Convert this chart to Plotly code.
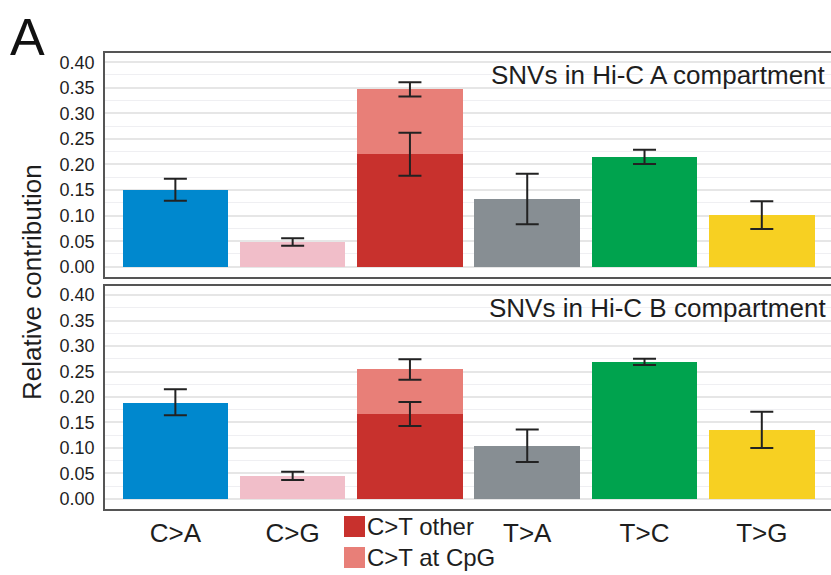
import plotly.graph_objects as go

# ---------------- data ----------------
categories = ["C>A", "C>G", "C>T", "T>A", "T>C", "T>G"]
tick_labels = ["C>A", "C>G", "", "T>A", "T>C", "T>G"]

single_cats = ["C>A", "C>G", "T>A", "T>C", "T>G"]
single_colors = ["#0088CE", "#F1BEC9", "#878E93", "#00A34E", "#F7D022"]

# Hi-C A compartment
a_single = [0.150, 0.048, 0.133, 0.215, 0.101]
a_ct_other = 0.220
a_ct_cpg = 0.127
a_err_low = [0.129, 0.041, 0.178, 0.333, 0.083, 0.201, 0.074]
a_err_high = [0.172, 0.0556, 0.262, 0.361, 0.182, 0.229, 0.128]

# Hi-C B compartment
b_single = [0.188, 0.045, 0.104, 0.2686, 0.135]
b_ct_other = 0.1667
b_ct_cpg = 0.088
b_err_low = [0.164, 0.037, 0.143, 0.234, 0.0725, 0.263, 0.100]
b_err_high = [0.215, 0.053, 0.190, 0.274, 0.136, 0.275, 0.171]

err_cats = ["C>A", "C>G", "C>T", "C>T", "T>A", "T>C", "T>G"]

ct_other_color = "#C8312D"
ct_cpg_color = "#E87F78"
legend_labels = ["C>T other", "C>T at CpG"]

FONT = "Liberation Sans, Arial, Helvetica, sans-serif"
TXT = "#1E1E1E"

fig = go.Figure()


def add_panel(single, ct_other, ct_cpg, lo, hi, xa, ya):
    fig.add_trace(go.Bar(x=single_cats, y=single, marker=dict(color=single_colors, line=dict(width=0)),
                         width=0.9, xaxis=xa, yaxis=ya, showlegend=False))
    fig.add_trace(go.Bar(x=["C>T"], y=[ct_other], marker=dict(color=ct_other_color, line=dict(width=0)),
                         width=0.9, xaxis=xa, yaxis=ya, showlegend=False))
    fig.add_trace(go.Bar(x=["C>T"], y=[ct_cpg], base=[ct_other],
                         marker=dict(color=ct_cpg_color, line=dict(width=0)),
                         width=0.9, xaxis=xa, yaxis=ya, showlegend=False))
    mids = [(l + h) / 2 for l, h in zip(lo, hi)]
    fig.add_trace(go.Scatter(
        x=err_cats, y=mids, mode="markers", marker=dict(size=0.1, color="rgba(0,0,0,0)"),
        error_y=dict(type="data", symmetric=False,
                     array=[h - m for h, m in zip(hi, mids)],
                     arrayminus=[m - l for l, m in zip(lo, mids)],
                     color="#222222", thickness=2, width=11.5),
        xaxis=xa, yaxis=ya, showlegend=False, hoverinfo="skip"))


add_panel(b_single, b_ct_other, b_ct_cpg, b_err_low, b_err_high, "x", "y")
add_panel(a_single, a_ct_other, a_ct_cpg, a_err_low, a_err_high, "x2", "y2")

yrange = [-0.02, 0.418]
yax = dict(range=yrange, tickvals=[0, 0.05, 0.1, 0.15, 0.2, 0.25, 0.3, 0.35, 0.4],
           tickformat=".2f", showgrid=True, gridcolor="#E6E6E6", gridwidth=1.5,
           minor=dict(dtick=0.025, tick0=0, showgrid=True, gridcolor="#EFEFF2", gridwidth=1),
           zeroline=False, showline=True, linecolor="#555555", linewidth=1.5, mirror=False,
           ticks="outside", ticklen=5, tickcolor="rgba(0,0,0,0)",
           tickfont=dict(family=FONT, size=18, color=TXT), fixedrange=True)
xax = dict(range=[-0.6, 5.59], categoryorder="array", categoryarray=categories,
           showgrid=False, zeroline=False, showline=True, linecolor="#555555", linewidth=1.5,
           mirror=True, ticks="", fixedrange=True)

fig.update_layout(
    width=831, height=575,
    margin=dict(l=105, r=0, t=53, b=66),
    paper_bgcolor="white", plot_bgcolor="white",
    barmode="overlay", bargap=0,
    font=dict(family=FONT, color=TXT),
    xaxis=dict(**xax, domain=[0, 1], anchor="y", tickmode="array",
               tickvals=[categories[i] for i in [0, 1, 3, 4, 5]],
               ticktext=[tick_labels[i] for i in [0, 1, 3, 4, 5]],
               tickfont=dict(family=FONT, size=26, color=TXT)),
    yaxis=dict(**yax, domain=[0, 0.489], anchor="x"),
    xaxis2=dict(**xax, domain=[0, 1], anchor="y2", showticklabels=False),
    yaxis2=dict(**yax, domain=[0.5088, 1], anchor="x2"),
    showlegend=False,
)

# panel titles
fig.add_annotation(text="SNVs in Hi-C A compartment", xref="paper", yref="paper", x=1, y=0.952,
                   xanchor="right", yanchor="middle", xshift=-3, showarrow=False,
                   font=dict(family=FONT, size=26, color=TXT))
fig.add_annotation(text="SNVs in Hi-C B compartment", xref="paper", yref="paper", x=1, y=0.441,
                   xanchor="right", yanchor="middle", xshift=-3, showarrow=False,
                   font=dict(family=FONT, size=26, color=TXT))
# panel letter
fig.add_annotation(text="A", xref="paper", yref="paper", x=(8 - 105) / 726, y=1.035,
                   xanchor="left", yanchor="middle", showarrow=False,
                   font=dict(family=FONT, size=52, color="#111111"))
# y-axis title
fig.add_annotation(text="Relative contribution", xref="paper", yref="paper", x=(32 - 105) / 726,
                   y=0.498, textangle=-90, xanchor="center", yanchor="middle", showarrow=False,
                   font=dict(family=FONT, size=26, color=TXT))

# custom legend
legend_colors = [ct_other_color, ct_cpg_color]
for i, (lab, col) in enumerate(zip(legend_labels, legend_colors)):
    top_px = 516 + 31 * i
    y0 = (509 - (top_px + 21)) / 456
    y1 = (509 - top_px) / 456
    fig.add_shape(type="rect", xref="paper", yref="paper",
                  x0=(344 - 105) / 726, x1=(365 - 105) / 726, y0=y0, y1=y1,
                  fillcolor=col, line=dict(width=0), layer="above")
    fig.add_annotation(text=lab, xref="paper", yref="paper", x=(365 - 105) / 726, y=(y0 + y1) / 2,
                       xanchor="left", yanchor="middle", showarrow=False,
                       font=dict(family=FONT, size=24, color=TXT))

fig.write_html("out.html")
